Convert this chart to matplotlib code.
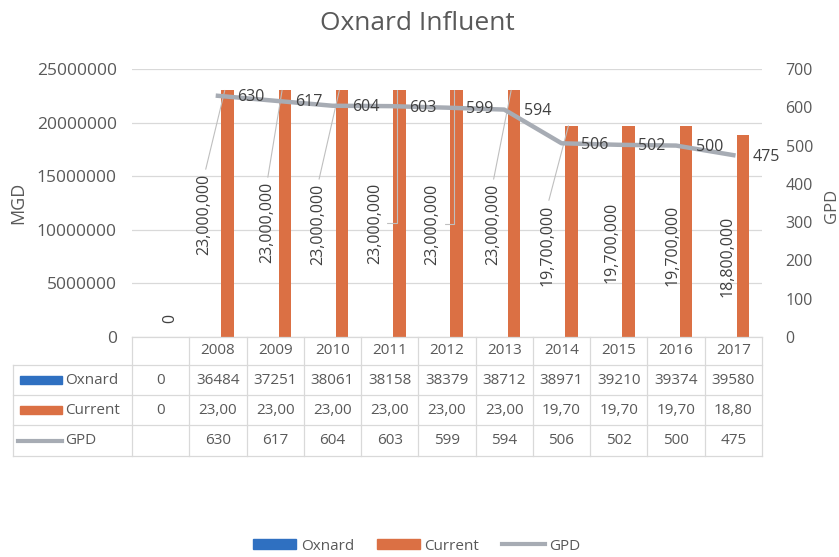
import numpy as np
import matplotlib
matplotlib.use("Agg")
import matplotlib.pyplot as plt
from matplotlib.patches import Rectangle
from matplotlib.lines import Line2D

plt.rcParams["font.family"] = ["Open Sans", "DejaVu Sans"]

categories = ["", "2008", "2009", "2010", "2011", "2012", "2013", "2014", "2015", "2016", "2017"]
oxnard = [0, 36484, 37251, 38061, 38158, 38379, 38712, 38971, 39210, 39374, 39580]
current = [0, 23000000, 23000000, 23000000, 23000000, 23000000, 23000000,
           19700000, 19700000, 19700000, 18800000]
gpd = [np.nan, 630, 617, 604, 603, 599, 594, 506, 502, 500, 475]

# hand-placed label positions for the Current values (as in the original chart)
lbl_dx = [0.16, -0.23, -0.14, -0.25, -0.26, -0.25, -0.20, -0.24, -0.12, -0.06, -0.11]
lbl_yf = [0.07, 0.459, 0.429, 0.422, 0.425, 0.422, 0.422, 0.343, 0.354, 0.343, 0.299]
leader = [None, "straight", "straight", "straight", "elbow", "elbow", "straight", "straight", None, None, None]

BLUE = "#2F70C1"
ORANGE = "#DB7044"
GRAY = "#A7ACB4"
TXT = "#595959"
DARK = "#404040"
GRID = "#D9D9D9"
LEAD = "#BFBFBF"

W, H = 839, 557
L, R, T, B = 132, 762, 69, 337

fig = plt.figure(figsize=(W / 100, H / 100), dpi=100)
fig.patch.set_facecolor("white")

ax = fig.add_axes([L / W, 1 - B / H, (R - L) / W, (B - T) / H])
x = np.arange(len(categories))
ax.bar(x - 0.05, oxnard, 0.22, color=BLUE, zorder=2)
ax.bar(x + 0.17, current, 0.22, color=ORANGE, zorder=2)
ax.set_xlim(-0.5, len(categories) - 0.5)
ax.set_ylim(0, 25000000)
ax.set_yticks(np.arange(0, 25000001, 5000000))
ax.yaxis.set_major_formatter(lambda v, p: f"{v:.0f}")
ax.tick_params(axis="y", length=0, pad=11, labelsize=12.5, labelcolor=TXT)
ax.set_xticks([])
ax.grid(axis="y", color=GRID, lw=0.9)
ax.set_axisbelow(True)
for s in ax.spines.values():
    s.set_visible(False)

for i, v in enumerate(current):
    kw = {}
    if leader[i] == "straight":
        kw["arrowprops"] = dict(arrowstyle="-", color=LEAD, lw=0.8, shrinkA=1, shrinkB=0, relpos=(0.5, 1))
    elif leader[i] == "elbow":
        kw["arrowprops"] = dict(arrowstyle="-", color=LEAD, lw=0.8, shrinkA=1, shrinkB=0, relpos=(1, 0.5),
                                connectionstyle="angle,angleA=0,angleB=90,rad=0")
    ax.annotate(f"{v:,}", xy=(x[i] + 0.12, v), xytext=(x[i] + lbl_dx[i], lbl_yf[i]),
                textcoords=("data", "axes fraction"), rotation=90, ha="center", va="center",
                fontsize=11.5, color=DARK, zorder=4, **kw)

ax2 = ax.twinx()
ax2.plot(x, gpd, color=GRAY, lw=3.2, solid_joinstyle="round", zorder=3)
ax2.set_ylim(0, 700)
ax2.set_yticks(range(0, 701, 100))
ax2.tick_params(axis="y", length=0, pad=17, labelsize=11.5, labelcolor=TXT)
for s in ax2.spines.values():
    s.set_visible(False)
for xi, v in zip(x, gpd):
    if np.isnan(v):
        continue
    ax2.annotate(f"{v:.0f}", (xi, v), xytext=(14, -1), textcoords="offset points",
                 ha="left", va="center", fontsize=11.5, color=DARK)

# data table drawn under the plot, in pixel coordinates
lay = fig.add_axes([0, 0, 1, 1])
lay.set_xlim(0, W)
lay.set_ylim(H, 0)
lay.axis("off")

cw = (R - L) / len(categories)
rows_y = [337, 365, 395, 425, 456]
tl = 13
for k, yy in enumerate(rows_y):
    lay.plot([L if k == 0 else tl, R], [yy, yy], color=GRID, lw=0.9)
for j in range(len(categories) + 1):
    lay.plot([L + j * cw] * 2, [rows_y[0], rows_y[-1]], color=GRID, lw=0.9)
lay.plot([tl, tl], [rows_y[1], rows_y[-1]], color=GRID, lw=0.9)

table_rows = [
    categories,
    [f"{v}" for v in oxnard],
    [f"{v:,}"[:5] for v in current],
    ["" if np.isnan(v) else f"{v:.0f}" for v in gpd],
]
for k, row in enumerate(table_rows):
    yc = (rows_y[k] + rows_y[k + 1]) / 2
    for j, txt in enumerate(row):
        lay.text(L + (j + 0.5) * cw, yc, txt, ha="center", va="center", fontsize=11, color=TXT)

# row headers with legend keys
series = ["Oxnard", "Current", "GPD"]
colors = [BLUE, ORANGE, GRAY]
for k, (name, c) in enumerate(zip(series, colors)):
    yc = (rows_y[k + 1] + rows_y[k + 2]) / 2
    if name == "GPD":
        lay.plot([18, 62], [yc, yc], color=c, lw=3)
    else:
        lay.add_patch(Rectangle((20, yc - 4), 42, 8, color=c))
    lay.text(65, yc, name, ha="left", va="center", fontsize=11, color=TXT)

fig.text(0.498, 1 - 23 / H, "Oxnard Influent", ha="center", va="center", fontsize=19, color=TXT)
fig.text(18 / W, 1 - 203 / H, "MGD", rotation=90, ha="center", va="center", fontsize=13, color=TXT)
fig.text(832 / W, 1 - 206 / H, "GPD", rotation=90, ha="center", va="center", fontsize=12, color=TXT)

handles = [Rectangle((0, 0), 1, 1, color=BLUE), Rectangle((0, 0), 1, 1, color=ORANGE),
           Line2D([], [], color=GRAY, lw=3)]
fig.legend(handles, series, loc="center", bbox_to_anchor=(0.497, 1 - 546 / H), ncol=3, frameon=False,
           fontsize=11, handlelength=2.8, handleheight=0.55, handletextpad=0.3, columnspacing=1.5,
           labelcolor=TXT)

fig.savefig("out.png", dpi=100, facecolor="white")
